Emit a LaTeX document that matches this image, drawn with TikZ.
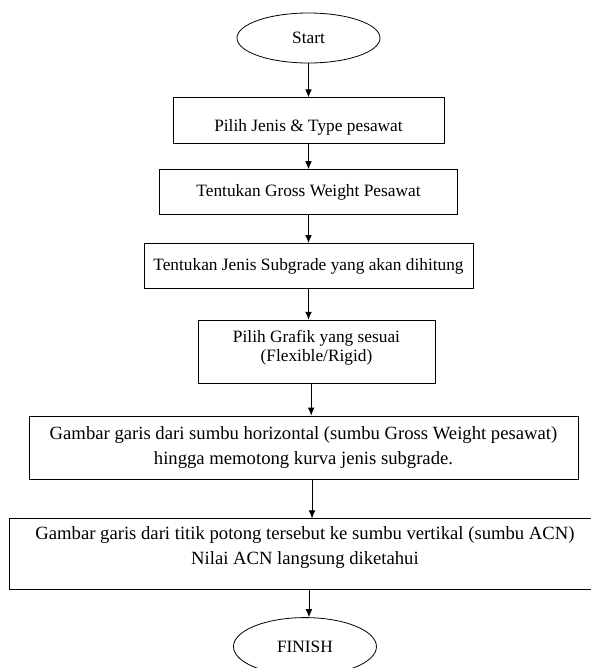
\documentclass[tikz,border=0pt]{standalone}
\usepackage{fontspec}
\setmainfont{Liberation Serif}
\usetikzlibrary{positioning, shapes.geometric, arrows.meta}

\tikzset{
  stepbox/.style={draw, rectangle, line width=0.6pt, inner sep=2pt, align=center, font=\fontsize{13}{15}\selectfont},
  widebox/.style={stepbox, font=\fontsize{14}{18.75}\selectfont},
  terminal/.style={draw, ellipse, line width=0.6pt, inner sep=0pt, minimum width=107.25pt, font=\fontsize{13}{15}\selectfont},
  flowarrow/.style={-{Latex[length=6pt,width=5pt]}, line width=0.6pt}
}

\begin{document}
\begin{tikzpicture}[x=0.75pt, y=-0.75pt]
\useasboundingbox (0,0) rectangle (590,668);
\node (start) [terminal, minimum height=37.5pt] at (308.5,38) {Start};
\node (pilihjenis) [stepbox, below=25.5pt of start, minimum width=203.25pt, minimum height=34.5pt, text height=19.5pt, text depth=2.8pt] {Pilih Jenis \& Type pesawat};
\node (grossweight) [stepbox, below=18.75pt of pilihjenis, minimum width=223.5pt, minimum height=33.75pt] {Tentukan Gross Weight Pesawat};
\node (subgrade) [stepbox, below=21pt of grossweight, minimum width=246.75pt, minimum height=33.75pt] {Tentukan Jenis Subgrade yang akan dihitung};
\node (grafik) [stepbox, below=23.25pt of subgrade, xshift=6pt, minimum width=177.75pt, minimum height=47.25pt, font=\fontsize{13}{14.25}\selectfont, text depth=8.8pt] {Pilih Grafik yang sesuai\\(Flexible/Rigid)};
\node (garishoriz) [widebox, below=24pt of grafik, xshift=-9.75pt, minimum width=411.75pt, minimum height=47.25pt] {Gambar garis dari sumbu horizontal (sumbu Gross Weight pesawat)\\hingga memotong kurva jenis subgrade.};
\node (garisvert) [widebox, below=29.25pt of garishoriz, xshift=1.1pt, minimum width=444pt, minimum height=53.25pt, text depth=13.5pt] {Gambar garis dari titik potong tersebut ke sumbu vertikal (sumbu ACN)\\Nilai ACN langsung diketahui};
\node (finish) [terminal, below=20.25pt of garisvert, minimum height=43.5pt] {FINISH};

\draw[flowarrow] (start) -- (start |- pilihjenis.north);
\draw[flowarrow] (pilihjenis) -- (pilihjenis |- grossweight.north);
\draw[flowarrow] (grossweight) -- (grossweight |- subgrade.north);
\draw[flowarrow] (subgrade) -- (subgrade |- grafik.north);
\draw[flowarrow] ([xshift=-4pt]grafik.south) -- ([xshift=-4pt]grafik.south |- garishoriz.north);
\draw[flowarrow] ([xshift=6.4pt]garishoriz.south) -- ([xshift=6.4pt]garishoriz.south |- garisvert.north);
\draw[flowarrow] ([xshift=3pt]garisvert.south) -- ([xshift=3pt]garisvert.south |- finish.north);
\end{tikzpicture}
\end{document}
